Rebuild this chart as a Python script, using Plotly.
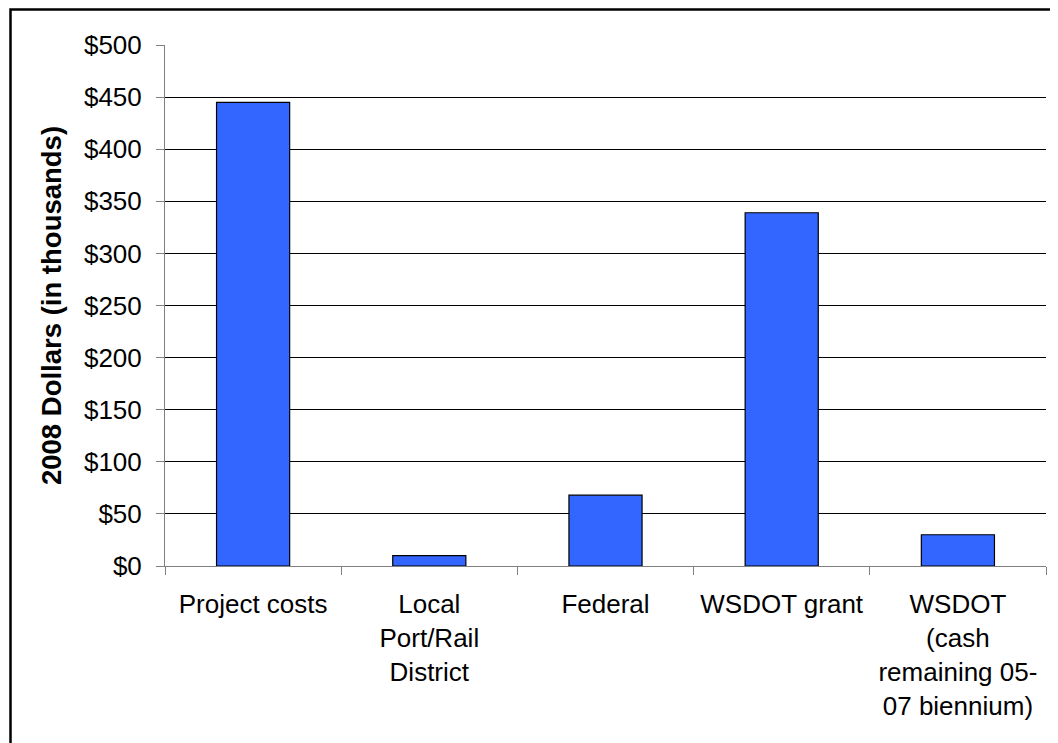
import plotly.graph_objects as go

categories = ["Project costs", "Local<br>Port/Rail<br>District", "Federal", "WSDOT grant",
              "WSDOT<br>(cash<br>remaining 05-<br>07 biennium)"]
values = [445, 10, 68, 339, 30]
tick_vals = [0, 50, 100, 150, 200, 250, 300, 350, 400, 450, 500]
tick_text = ["$0", "$50", "$100", "$150", "$200", "$250", "$300", "$350", "$400", "$450", "$500"]
y_title = "2008 Dollars (in thousands)"

FONT = "Liberation Sans, Arial, sans-serif"

fig = go.Figure()
fig.add_trace(go.Bar(
    x=categories, y=values,
    marker=dict(color="#3366FF", line=dict(color="#000000", width=1.2)),
    width=0.415,
))

# page has an 8px body margin, so the figure is drawn 8px right/down
W, H = 1050, 735
L, R, T, B = 157, 12, 37, 177
pw = W - L - R
ph = H - T - B

fig.update_layout(
    width=W, height=H,
    margin=dict(l=L, r=R, t=T, b=B, pad=0),
    paper_bgcolor="white", plot_bgcolor="white",
    showlegend=False,
    font=dict(family=FONT, size=26, color="#000000"),
    xaxis=dict(
        showgrid=False, showline=True, linecolor="#808080", linewidth=1,
        ticks="outside", ticklen=8, tickcolor="#808080", tickwidth=1,
        tickson="boundaries", tickfont=dict(size=26, color="#000000"),
        ticklabelstandoff=15,
    ),
    yaxis=dict(
        range=[0, 500], tickvals=tick_vals, ticktext=tick_text,
        showgrid=True, gridcolor="#000000", gridwidth=1,
        showline=True, linecolor="#808080", linewidth=1,
        ticks="outside", ticklen=8, tickcolor="#808080", tickwidth=1,
        tickfont=dict(size=26, color="#000000"),
        ticklabelstandoff=9,
        zeroline=False,
        title=dict(text="<b>" + y_title + "</b>", font=dict(size=27.5), standoff=14),
    ),
)

# outer chart frame (left and top edges visible)
fig.add_shape(type="rect", xref="paper", yref="paper",
              x0=(2.5 - L) / pw, x1=1.2, y0=-0.6, y1=(H - B - 1.5) / ph,
              line=dict(color="#000000", width=2.5), fillcolor="rgba(0,0,0,0)", layer="above")

fig.write_html("out.html")
